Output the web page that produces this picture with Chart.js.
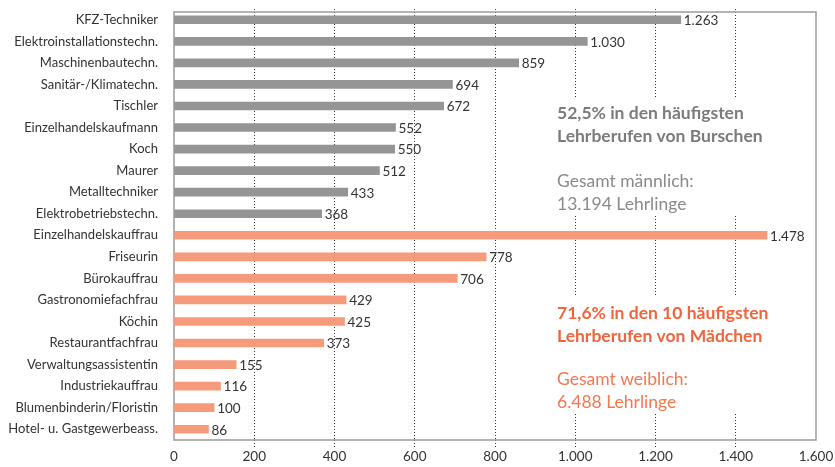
<!DOCTYPE html>
<html>
<head>
<meta charset="utf-8">
<script src="https://cdn.jsdelivr.net/npm/chart.js@4"></script>
<style>
  html, body { margin: 0; padding: 0; background: #fff; }
  #wrap { width: 835px; height: 467px; position: relative; }
</style>
</head>
<body>
<div id="wrap"><canvas id="chart"></canvas></div>
<script>
  // ---- Data ------------------------------------------------
  const categories = [
    'KFZ-Techniker', 'Elektroinstallationstechn.', 'Maschinenbautechn.',
    'Sanitär-/Klimatechn.', 'Tischler', 'Einzelhandelskaufmann', 'Koch',
    'Maurer', 'Metalltechniker', 'Elektrobetriebstechn.',
    'Einzelhandelskauffrau', 'Friseurin', 'Bürokauffrau', 'Gastronomiefachfrau',
    'Köchin', 'Restaurantfachfrau', 'Verwaltungsassistentin', 'Industriekauffrau',
    'Blumenbinderin/Floristin', 'Hotel- u. Gastgewerbeass.'
  ];
  const boysValues  = [1263, 1030, 859, 694, 672, 552, 550, 512, 433, 368];
  const girlsValues = [1478, 778, 706, 429, 425, 373, 155, 116, 100, 86];
  const xTicks = [0, 200, 400, 600, 800, 1000, 1200, 1400, 1600];

  const boysNote  = ['52,5% in den häufigsten', 'Lehrberufen von Burschen'];
  const boysTotal = ['Gesamt männlich:', '13.194 Lehrlinge'];
  const girlsNote  = ['71,6% in den 10 häufigsten', 'Lehrberufen von Mädchen'];
  const girlsTotal = ['Gesamt weiblich:', '6.488 Lehrlinge'];

  const GRAY   = '#959595';
  const SALMON = '#f59b7c';
  const FONT   = "Lato, 'Open Sans', sans-serif";

  const values = boysValues.concat(girlsValues);
  const colors = values.map((v, i) => i < boysValues.length ? GRAY : SALMON);

  const fmt = v => v.toLocaleString('de-DE');

  // ---- Plugins ---------------------------------------------
  // value label right of every bar
  const valueLabels = {
    id: 'valueLabels',
    afterDatasetsDraw(chart) {
      const ctx = chart.ctx;
      const meta = chart.getDatasetMeta(0);
      ctx.save();
      ctx.font = '13.5px ' + FONT;
      ctx.fillStyle = '#333';
      ctx.textBaseline = 'middle';
      ctx.textAlign = 'left';
      meta.data.forEach((bar, i) => {
        ctx.fillText(fmt(values[i]), bar.x + 3, bar.y + 1);
      });
      ctx.restore();
    }
  };

  // frame + annotation blocks on white boxes
  const notes = {
    id: 'notes',
    beforeDatasetsDraw(chart) {
      const ctx = chart.ctx;
      const a = chart.chartArea;
      const left = a.left + 383;
      ctx.save();
      ctx.fillStyle = '#fff';
      ctx.fillRect(left - 8, a.top + 89, a.right - left + 7, 116);
      ctx.fillRect(left - 8, a.top + 286, a.right - left + 7, 118);

      function block(lines, y, color, weight, size) {
        ctx.font = weight + ' ' + size + 'px ' + FONT;
        ctx.fillStyle = color;
        ctx.textAlign = 'left';
        ctx.textBaseline = 'middle';
        lines.forEach((t, i) => ctx.fillText(t, left, y + i * 23));
      }
      block(boysNote,   a.top + 104, '#7b7b7b', 'bold', 17.5);
      block(boysTotal,  a.top + 172, '#8a8a8a', 'normal', 17.5);
      block(girlsNote,  a.top + 304, '#f0653d', 'bold', 17.5);
      block(girlsTotal, a.top + 370, '#f3784f', 'normal', 17.5);

      ctx.strokeStyle = '#9a9a9a';
      ctx.lineWidth = 1.5;
      ctx.strokeRect(a.left, a.top + 3, a.right - a.left, a.bottom - a.top - 3);
      ctx.restore();
    }
  };

  // ---- Chart -----------------------------------------------
  new Chart(document.getElementById('chart'), {
    type: 'bar',
    data: {
      labels: categories,
      datasets: [{
        data: values,
        backgroundColor: colors,
        borderWidth: 0,
        barThickness: 8
      }]
    },
    options: {
      indexAxis: 'y',
      responsive: true,
      maintainAspectRatio: false,
      animation: false,
      layout: { padding: { top: 9, right: 19, bottom: 0, left: 0 } },
      plugins: { legend: { display: false }, tooltip: { enabled: false } },
      scales: {
        x: {
          min: 0,
          max: 1600,
          afterBuildTicks: s => { s.ticks = xTicks.map(v => ({ value: v })); },
          afterFit: s => { s.height = 27; s.paddingLeft = 0; s.paddingRight = 0; },
          grid: {
            color: c => (c.tick && (c.tick.value === 0 || c.tick.value === 1600)) ? 'rgba(0,0,0,0)' : '#333',
            lineWidth: 1,
            tickLength: 7,
            tickBorderDash: [1, 2],
            drawOnChartArea: true
          },
          border: { display: false, dash: [1, 2] },
          ticks: {
            color: '#333',
            font: { family: FONT, size: 13.5 },
            padding: 2,
            maxRotation: 0,
            callback: v => fmt(v)
          }
        },
        y: {
          afterFit: s => { s.width = 174; s.paddingTop = 0; s.paddingBottom = 0; },
          grid: { display: false },
          border: { display: false },
          ticks: {
            color: '#333',
            font: { family: FONT, size: 13 },
            padding: 8,
            autoSkip: false
          }
        }
      }
    },
    plugins: [notes, valueLabels]
  });
</script>
</body>
</html>
